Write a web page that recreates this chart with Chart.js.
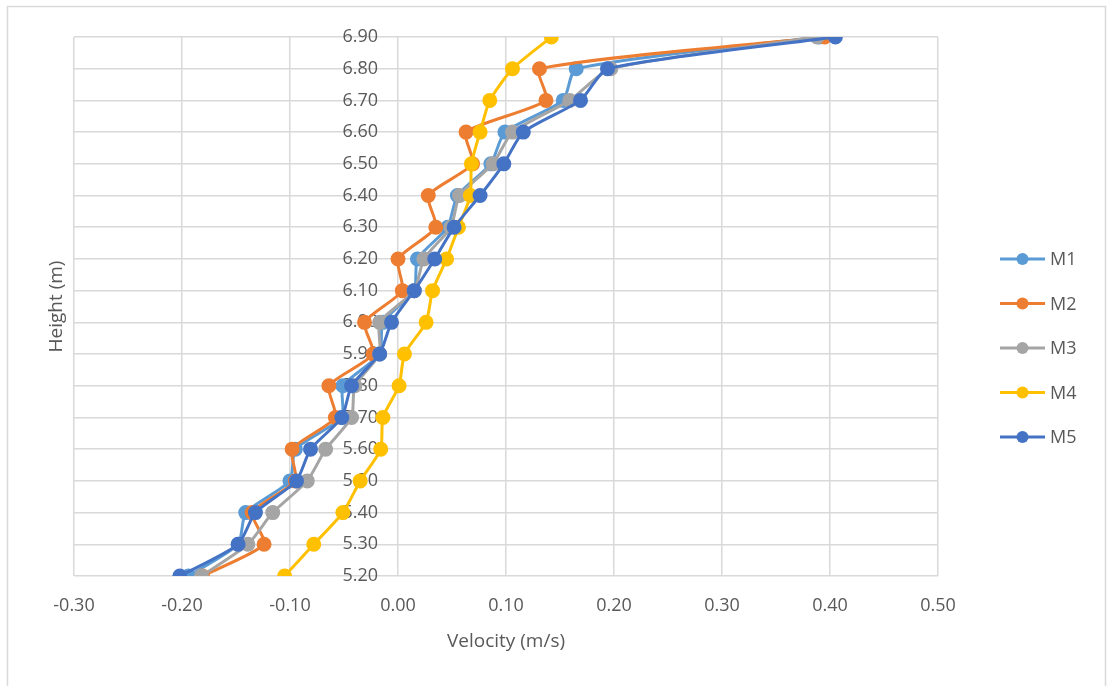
<!DOCTYPE html>
<html>
<head>
<meta charset="utf-8">
<script src="https://cdn.jsdelivr.net/npm/chart.js@4/dist/chart.umd.min.js"></script>
<style>
  html, body { margin: 0; padding: 0; background: #fff; }
  #wrap { width: 1107px; height: 686px; position: relative; }
</style>
</head>
<body>
<div id="wrap"><canvas id="velChart"></canvas></div>
<script>
// alturas (m), de cima para baixo
const heights = [6.90, 6.80, 6.70, 6.60, 6.50, 6.40, 6.30, 6.20, 6.10, 6.00, 5.90, 5.80, 5.70, 5.60, 5.50, 5.40, 5.30, 5.20];

// velocidades (m/s)
const m1 = [0.390, 0.165, 0.153, 0.099, 0.086, 0.055, 0.046, 0.018, 0.015, -0.014, -0.017, -0.051, -0.052, -0.095, -0.100, -0.141, -0.148, -0.194];
const m2 = [0.395, 0.131, 0.137, 0.063, 0.069, 0.028, 0.035, 0.000, 0.004, -0.031, -0.023, -0.064, -0.058, -0.098, -0.095, -0.135, -0.124, -0.181];
const m3 = [0.388, 0.197, 0.159, 0.106, 0.088, 0.057, 0.049, 0.024, 0.015, -0.017, -0.017, -0.040, -0.043, -0.067, -0.084, -0.116, -0.139, -0.182];
const m4 = [0.142, 0.106, 0.085, 0.076, 0.068, 0.067, 0.056, 0.045, 0.032, 0.026, 0.006, 0.001, -0.014, -0.016, -0.035, -0.051, -0.078, -0.105];
const m5 = [0.405, 0.194, 0.169, 0.116, 0.098, 0.076, 0.052, 0.034, 0.015, -0.006, -0.017, -0.043, -0.052, -0.081, -0.094, -0.132, -0.148, -0.202];

const seriesNames = ['M1', 'M2', 'M3', 'M4', 'M5'];
const seriesValues = [m1, m2, m3, m4, m5];
const seriesColors = ['#5B9BD5', '#ED7D31', '#A5A5A5', '#FFC000', '#4472C4'];

const xTicks = [-0.30, -0.20, -0.10, 0.00, 0.10, 0.20, 0.30, 0.40, 0.50];
const yTicks = heights.slice();

const FONT = '"Open Sans", sans-serif';
const TEXT = '#595959';
const GRID = '#d9d9d9';

const datasets = seriesValues.map((vals, i) => ({
    label: seriesNames[i],
    data: vals.map((v, k) => ({ x: v, y: heights[k] })),
    borderColor: seriesColors[i],
    backgroundColor: seriesColors[i],
    borderWidth: 3,
    pointRadius: 6,
    pointHoverRadius: 6,
    showLine: true,
    tension: 0.2,
    order: seriesNames.length - i   // M5 fica por cima, como no Excel
}));

// moldura da área do gráfico
const frame = {
    id: 'frame',
    beforeDraw(chart) {
        const ctx = chart.ctx;
        ctx.save();
        ctx.strokeStyle = GRID;
        ctx.lineWidth = 1.5;
        ctx.strokeRect(7.5, 6.5, 1098, 700);
        ctx.restore();
    }
};

// rótulos do eixo Y desenhados junto de x = 0
const yLabels = {
    id: 'yLabels',
    beforeDatasetsDraw(chart) {
        const ctx = chart.ctx;
        const xs = chart.scales.x, ys = chart.scales.y;
        const px = xs.getPixelForValue(0) - 20;
        ctx.save();
        ctx.font = '18px ' + FONT;
        ctx.fillStyle = TEXT;
        ctx.textAlign = 'right';
        ctx.textBaseline = 'middle';
        yTicks.forEach(t => ctx.fillText(t.toFixed(2), px, ys.getPixelForValue(t)));
        ctx.restore();
    }
};

// legenda com linha + marcador
const lineLegend = {
    id: 'lineLegend',
    afterDraw(chart) {
        const ctx = chart.ctx;
        const x0 = 1000, top = 259, gap = 44.5;
        ctx.save();
        ctx.font = '18px ' + FONT;
        ctx.textBaseline = 'middle';
        ctx.textAlign = 'left';
        seriesNames.forEach((name, i) => {
            const y = top + i * gap;
            ctx.strokeStyle = seriesColors[i];
            ctx.lineWidth = 3;
            ctx.beginPath();
            ctx.moveTo(x0, y);
            ctx.lineTo(x0 + 45, y);
            ctx.stroke();
            ctx.fillStyle = seriesColors[i];
            ctx.beginPath();
            ctx.arc(x0 + 22.5, y, 6, 0, Math.PI * 2);
            ctx.fill();
            ctx.fillStyle = TEXT;
            ctx.fillText(name, x0 + 50, y + 1);
        });
        ctx.restore();
    }
};

new Chart(document.getElementById('velChart').getContext('2d'), {
    type: 'scatter',
    data: { datasets },
    options: {
        responsive: true,
        maintainAspectRatio: false,
        animation: false,
        layout: { padding: { left: 0, top: 37, right: 169, bottom: 0 } },
        plugins: {
            legend: { display: false },
            tooltip: { enabled: false }
        },
        scales: {
            x: {
                type: 'linear',
                min: -0.3,
                max: 0.5,
                afterBuildTicks: s => { s.ticks = xTicks.map(v => ({ value: v })); },
                afterFit: s => { s.height = 110; },
                grid: { color: GRID, lineWidth: 1.5, drawTicks: false },
                border: { display: false },
                ticks: {
                    padding: 19,
                    color: TEXT,
                    font: { family: FONT, size: 18 },
                    callback: v => v.toFixed(2)
                },
                title: {
                    display: true,
                    text: 'Velocity (m/s)',
                    color: TEXT,
                    font: { family: FONT, size: 19 },
                    padding: { top: 10, bottom: 33 }
                }
            },
            y: {
                type: 'linear',
                min: 5.2,
                max: 6.9,
                afterBuildTicks: s => { s.ticks = yTicks.map(v => ({ value: v })); },
                afterFit: s => { s.width = 74; },
                grid: { color: GRID, lineWidth: 1.5, drawTicks: false },
                border: { display: false },
                ticks: { display: false },
                title: {
                    display: true,
                    text: 'Height (m)',
                    color: TEXT,
                    font: { family: FONT, size: 19 },
                    padding: { top: 45, bottom: 0 }
                }
            }
        }
    },
    plugins: [frame, yLabels, lineLegend]
});
</script>
</body>
</html>
